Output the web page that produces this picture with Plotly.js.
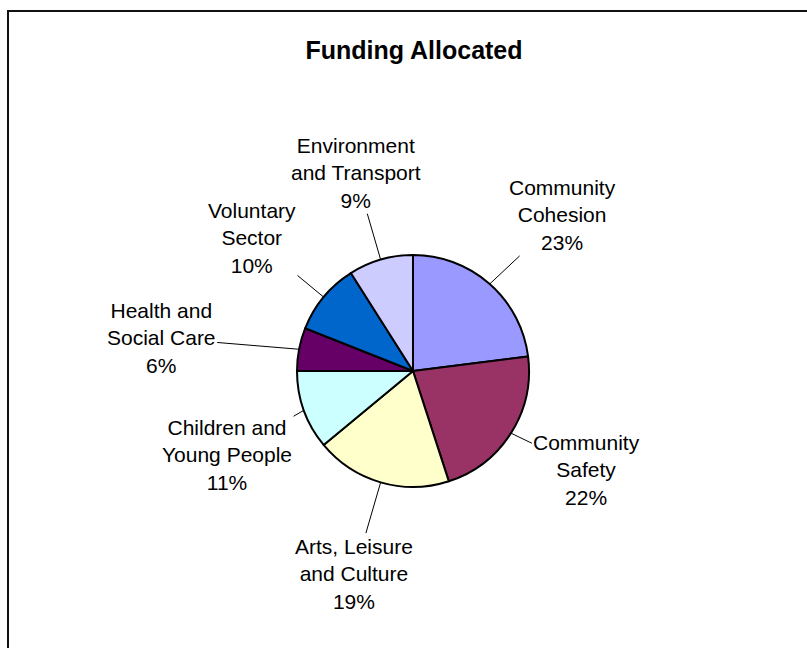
<!DOCTYPE html>
<html>
<head>
<meta charset="utf-8">
<script src="https://cdn.plot.ly/plotly-3.0.1.min.js"></script>
<style>
  html, body { margin: 0; padding: 0; background: #fff; }
  #chart { width: 807px; height: 648px; }
</style>
</head>
<body>
<div id="chart"></div>
<script>
// ---- data ----
const categories = [
  'Community<br>Cohesion',
  'Community<br>Safety',
  'Arts, Leisure<br>and Culture',
  'Children and<br>Young People',
  'Health and<br>Social Care',
  'Voluntary<br>Sector',
  'Environment<br>and Transport'
];
const values = [23, 22, 19, 11, 6, 10, 9];
const colors = ['#9999FF', '#993366', '#FFFFCC', '#CCFFFF', '#660066', '#0066CC', '#CCCCFF'];
const titleText = 'Funding Allocated';

// ---- layout geometry (style) ----
const W = 807, H = 648;
const cx = 413, cy = 371, r = 116;
const labelDist = [216, 200, 211, 204, 254, 209, 206];
const labelTurn = [2.5, -2.8, 0, -4.5, -3.3, 0, 0]; // degrees
const fontFam = 'Liberation Sans, Arial, sans-serif';

const total = values.reduce((a, b) => a + b, 0);
const annotations = [];
let cum = 0;
values.forEach((v, i) => {
  const mid = (cum + v / 2) / total * 2 * Math.PI; // clockwise from 12 o'clock
  cum += v;
  const ex = cx + r * Math.sin(mid), ey = cy - r * Math.cos(mid);
  const la = mid + labelTurn[i] * Math.PI / 180;
  const lx = cx + labelDist[i] * Math.sin(la), ly = cy - labelDist[i] * Math.cos(la);
  annotations.push({
    x: ex / W, y: 1 - ey / H, xref: 'paper', yref: 'paper',
    text: categories[i] + '<br>' + Math.round(v / total * 100) + '%',
    showarrow: true, arrowhead: 0, arrowwidth: 1, arrowcolor: '#000',
    standoff: 0, ax: lx - ex, ay: ly - ey,
    align: 'center',
    font: { family: fontFam, size: 21, color: '#000' }
  });
});

const trace = {
  type: 'pie',
  labels: categories,
  values: values,
  sort: false,
  direction: 'clockwise',
  rotation: 0,
  textinfo: 'none',
  hoverinfo: 'none',
  marker: { colors: colors, line: { color: '#000', width: 2 } },
  domain: { x: [(cx - r) / W, (cx + r) / W], y: [1 - (cy + r) / H, 1 - (cy - r) / H] },
  showlegend: false
};

const layout = {
  width: W, height: H,
  margin: { l: 0, r: 0, t: 0, b: 0 },
  paper_bgcolor: '#fff',
  title: {
    text: '<b>' + titleText + '</b>',
    font: { family: fontFam, size: 25, color: '#000' },
    x: 0.513, xanchor: 'center', y: 1 - 50 / H, yanchor: 'middle', yref: 'container'
  },
  annotations: annotations,
  shapes: [{
    type: 'rect', xref: 'paper', yref: 'paper',
    x0: 8 / W, x1: 1.02, y0: -0.02, y1: 1 - 11 / H,
    line: { color: '#111', width: 2 }, fillcolor: 'rgba(0,0,0,0)'
  }]
};

Plotly.newPlot('chart', [trace], layout, { staticPlot: true, displayModeBar: false });
</script>
</body>
</html>
